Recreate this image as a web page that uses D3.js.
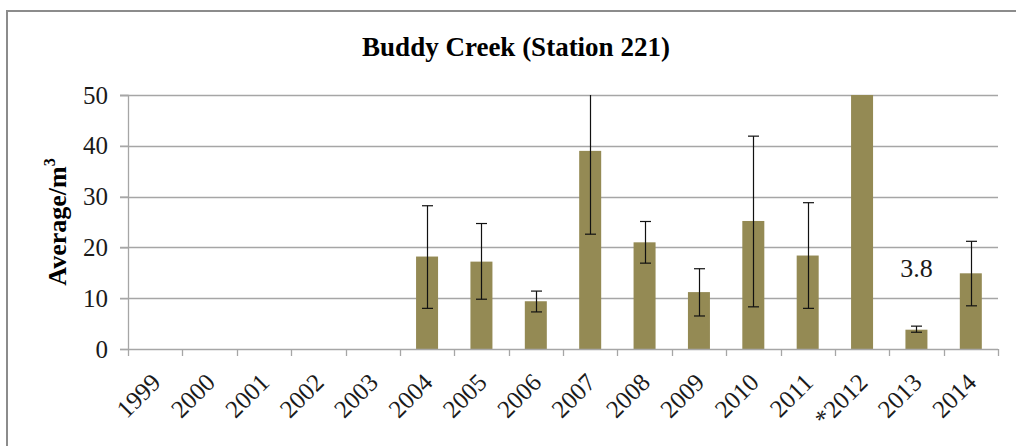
<!DOCTYPE html>
<html>
<head>
<meta charset="utf-8">
<script src="https://cdn.jsdelivr.net/npm/d3@7"></script>
<style>
  html, body { margin: 0; padding: 0; background: #fff; }
  svg { display: block; }
  text { font-family: "Liberation Serif", "Times New Roman", serif; }
</style>
</head>
<body>
<div id="chart"></div>
<script>
// ---- data ----
const years = ["1999","2000","2001","2002","2003","2004","2005","2006","2007","2008","2009","2010","2011","*2012","2013","2014"];
const averages = [null, null, null, null, null, 18.2, 17.2, 9.4, 39.0, 21.0, 11.2, 25.2, 18.4, 62, 3.8, 14.9];
const errHigh = [null, null, null, null, null, 28.2, 24.7, 11.4, 55.4, 25.1, 15.8, 41.9, 28.8, null, 4.5, 21.2];
const errLow  = [null, null, null, null, null, 8.0, 9.8, 7.3, 22.6, 16.9, 6.5, 8.3, 8.0, null, 3.3, 8.5];
const yTicks = [0, 10, 20, 30, 40, 50];
const titleText = "Buddy Creek (Station 221)";
const annotation = { year: "2013", text: "3.8", value: 3.8 };

// ---- layout ----
const W = 1016, H = 446;
const plot = { left: 128, right: 998, top: 95, bottom: 349 };

const svg = d3.select("#chart").append("svg").attr("width", W).attr("height", H);

// outer frame
svg.append("rect").attr("x", 7).attr("y", 11).attr("width", 1100).attr("height", 600)
  .attr("fill", "none").attr("stroke", "#8c8c8c").attr("stroke-width", 2);

const x = d3.scaleBand().domain(years).range([plot.left, plot.right]).padding(0);
const y = d3.scaleLinear().domain([0, 50]).range([plot.bottom, plot.top]);

svg.append("defs").append("clipPath").attr("id", "clip")
  .append("rect").attr("x", plot.left).attr("y", plot.top)
  .attr("width", plot.right - plot.left).attr("height", plot.bottom - plot.top);

// gridlines (with left tick extension)
svg.append("g").selectAll("line").data(yTicks.filter(d => d > 0)).join("line")
  .attr("x1", plot.left - 8).attr("x2", plot.right)
  .attr("y1", d => Math.round(y(d)) + 0.5).attr("y2", d => Math.round(y(d)) + 0.5)
  .attr("stroke", "#a6a6a6").attr("stroke-width", 1.3);

// y axis
const yAxis = svg.append("g").attr("transform", `translate(${plot.left},0)`)
  .call(d3.axisLeft(y).tickValues(yTicks).tickSize(8).tickPadding(12).tickFormat(d3.format("d")));
yAxis.select(".domain").attr("stroke", "#a6a6a6").attr("stroke-width", 1.3);
yAxis.selectAll(".tick line").attr("stroke", "#a6a6a6").attr("stroke-width", 1.3);
yAxis.selectAll(".tick text").attr("font-family", "Liberation Serif").attr("font-size", 25).attr("fill", "#1a1a1a");

// bars
const g = svg.append("g").attr("clip-path", "url(#clip)");
const barW = 22;
const idx = years.map((d, i) => i).filter(i => averages[i] != null);
g.selectAll("rect.bar").data(idx).join("rect").attr("class", "bar")
  .attr("x", i => x(years[i]) + x.bandwidth() / 2 - barW / 2)
  .attr("width", barW)
  .attr("y", i => y(averages[i]))
  .attr("height", i => y(0) - y(averages[i]))
  .attr("fill", "#948a54");

// error bars
const eIdx = idx.filter(i => errHigh[i] != null);
const capW = 11;
const eg = g.append("g").attr("stroke", "#111").attr("stroke-width", 1.2);
eIdx.forEach(i => {
  const cx = Math.round(x(years[i]) + x.bandwidth() / 2) + 0.5;
  eg.append("line").attr("x1", cx).attr("x2", cx).attr("y1", y(errHigh[i])).attr("y2", y(errLow[i]));
  [errHigh[i], errLow[i]].forEach(v => {
    if (v <= 50) eg.append("line").attr("x1", cx - capW / 2).attr("x2", cx + capW / 2)
      .attr("y1", y(v)).attr("y2", y(v));
  });
});

// x axis
const xAxis = svg.append("g").attr("transform", `translate(0,${plot.bottom})`)
  .call(d3.axisBottom(x).tickSize(0).tickFormat(""));
xAxis.select(".domain").remove();
svg.append("line").attr("x1", plot.left).attr("x2", plot.right)
  .attr("y1", plot.bottom + 0.5).attr("y2", plot.bottom + 0.5)
  .attr("stroke", "#a6a6a6").attr("stroke-width", 1.3);
const bounds = years.map(d => x(d)).concat([plot.right]);
svg.append("g").selectAll("line").data(bounds).join("line")
  .attr("x1", d => Math.round(d) + 0.5).attr("x2", d => Math.round(d) + 0.5)
  .attr("y1", plot.bottom).attr("y2", plot.bottom + 7)
  .attr("stroke", "#a6a6a6").attr("stroke-width", 1.3);

svg.append("g").selectAll("text").data(years).join("text")
  .attr("transform", d => `translate(${x(d) + x.bandwidth() / 2 + 7},${plot.bottom + 35}) rotate(-45)`)
  .attr("text-anchor", "end")
  .attr("font-size", 25).attr("fill", "#1a1a1a")
  .text(d => d);

// annotation
svg.append("text")
  .attr("x", x(annotation.year) + x.bandwidth() / 2)
  .attr("y", y(annotation.value) - 53)
  .attr("text-anchor", "middle")
  .attr("font-family", "Liberation Sans").attr("font-size", 26).attr("fill", "#1a1a1a")
  .text(annotation.text);

// title
svg.append("text").attr("x", 516).attr("y", 56).attr("text-anchor", "middle")
  .attr("font-weight", "bold").attr("font-size", 27).attr("fill", "#000")
  .text(titleText);

// y label
const yl = svg.append("text")
  .attr("transform", `translate(66,${(plot.top + plot.bottom) / 2}) rotate(-90)`)
  .attr("text-anchor", "middle").attr("font-weight", "bold").attr("font-size", 26).attr("fill", "#000");
yl.append("tspan").text("Average/m");
yl.append("tspan").attr("font-size", 16).attr("dy", -11).text("3");
</script>
</body>
</html>
